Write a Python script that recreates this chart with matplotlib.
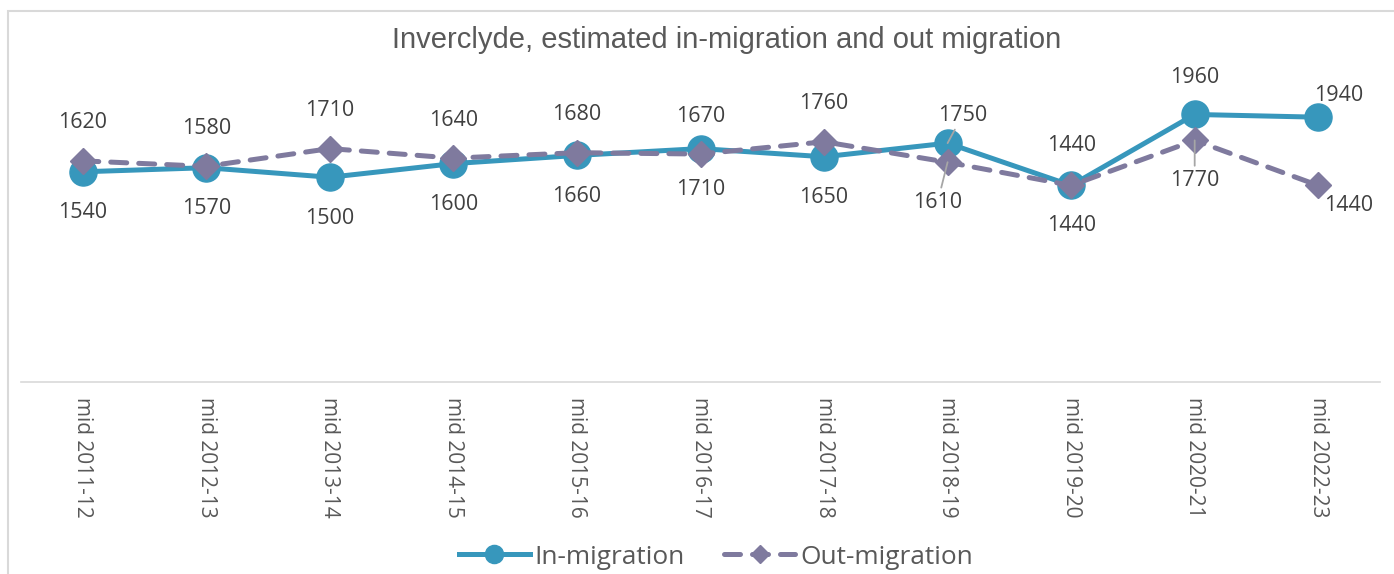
import matplotlib
matplotlib.use('Agg')
import matplotlib.pyplot as plt
from matplotlib.patches import Rectangle

# data
periods = ['mid 2011-12', 'mid 2012-13', 'mid 2013-14', 'mid 2014-15', 'mid 2015-16',
           'mid 2016-17', 'mid 2017-18', 'mid 2018-19', 'mid 2019-20', 'mid 2020-21',
           'mid 2022-23']
in_migration = [1540, 1570, 1500, 1600, 1660, 1710, 1650, 1750, 1440, 1960, 1940]
out_migration = [1620, 1580, 1710, 1640, 1680, 1670, 1760, 1610, 1440, 1770, 1440]

IN_COL = '#3797BC'
OUT_COL = '#7F7A9E'
TXT = '#595959'
LBL = '#404040'

# label offsets in pixels (dx, dy; dy positive = up), leader line flag
in_offsets = [(0, -41)] * 7 + [(15, 28), (0, -40), (0, 37), (20, 22)]
in_leader = [False] * 7 + [True, False, False, False]
out_offsets = [(0, 38)] * 7 + [(-10, -40), (0, 40), (0, -40), (30, -20)]
out_leader = [False] * 7 + [True, False, True, False]

fig = plt.figure(figsize=(13.94, 5.74), dpi=100)
ax = fig.add_axes([21 / 1394, 1 - 382 / 574, 1359 / 1394, (382 - 40.75) / 574])

x = list(range(len(periods)))
ax.plot(x, in_migration, color=IN_COL, lw=3.6, marker='o', markersize=19.5,
        label='In-migration', zorder=3)
ax.plot(x, out_migration, color=OUT_COL, lw=3.6, marker='D', markersize=13.5,
        dashes=(3.2, 2.4), dash_capstyle='round', label='Out-migration', zorder=4)

ax.set_xlim(-0.5, len(periods) - 0.5)
ax.set_ylim(0, 2500)

px = 0.72  # pixel -> point
for i in x:
    for vals, offs, lead in ((in_migration, in_offsets, in_leader),
                             (out_migration, out_offsets, out_leader)):
        dx, dy = offs[i]
        props = None
        if lead[i]:
            props = dict(arrowstyle='-', color='#A6A6A6', lw=1.3, shrinkA=1, shrinkB=0)
        ax.annotate(str(vals[i]), (i, vals[i]), xytext=(dx * px, dy * px),
                    textcoords='offset points', ha='center', va='center',
                    fontsize=15.5, color=LBL, family='Open Sans',
                    arrowprops=props, zorder=5)

for s in ['top', 'right', 'left']:
    ax.spines[s].set_visible(False)
ax.spines['bottom'].set_color('#D9D9D9')
ax.spines['bottom'].set_linewidth(1.2)
ax.set_yticks([])
ax.set_xticks(x)
ax.set_xticklabels(periods, rotation=270, fontsize=15, color=TXT, family='Open Sans')
ax.tick_params(axis='x', length=0, pad=11)

fig.text(727 / 1394, 1 - 40 / 574, 'Inverclyde, estimated in-migration and out migration',
         ha='center', va='center', fontsize=21, color=TXT, family='Liberation Sans')

fig.legend(loc='center', bbox_to_anchor=(716 / 1394, 1 - 557 / 574), ncol=2, frameon=False,
           handlelength=2.7, handletextpad=0.2, columnspacing=1.5,
           prop={'family': 'Open Sans', 'size': 18.9}, labelcolor=TXT, markerscale=0.67)

fig.add_artist(Rectangle((8 / 1394, -0.05), 1.1, 1.05 - 11 / 574, transform=fig.transFigure,
                         fill=False, edgecolor='#D9D9D9', lw=1.5, clip_on=False))

fig.savefig('out.png', dpi=100)
